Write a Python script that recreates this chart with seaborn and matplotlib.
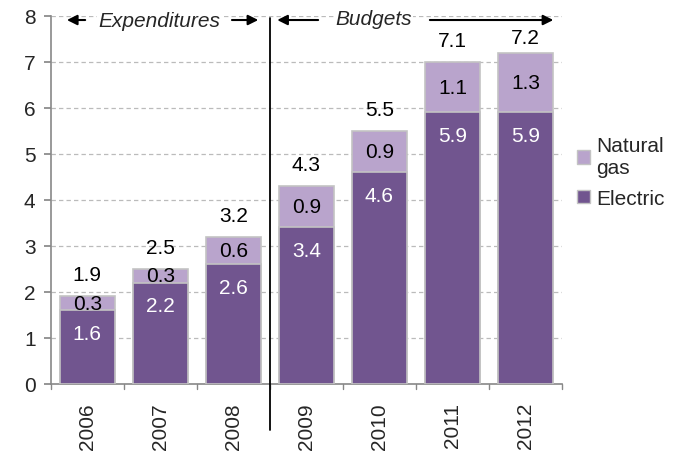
import matplotlib
matplotlib.use("Agg")
import matplotlib.pyplot as plt
import seaborn as sns
import pandas as pd
from matplotlib.patches import Patch

years = ["2006", "2007", "2008", "2009", "2010", "2011", "2012"]
electric = [1.6, 2.2, 2.6, 3.4, 4.6, 5.9, 5.9]
natural_gas = [0.3, 0.3, 0.6, 0.9, 0.9, 1.1, 1.3]
totals = [1.9, 2.5, 3.2, 4.3, 5.5, 7.1, 7.2]
y_ticks = [0, 1, 2, 3, 4, 5, 6, 7, 8]

C_ELEC = "#71558F"
C_GAS = "#B9A4CC"
C_EDGE = "#C3C3C3"
FS = 15

sns.set_theme(style="white")
plt.rcParams["font.family"] = ["Liberation Sans", "DejaVu Sans"]

df = pd.DataFrame({"year": years, "electric": electric, "gas": natural_gas})
df["stack"] = df["electric"] + df["gas"]

fig = plt.figure(figsize=(6.78, 4.56), dpi=100)
ax = fig.add_axes([0.075, 0.156, 0.754, 0.807])

sns.barplot(data=df, x="year", y="stack", color=C_GAS, saturation=1,
            width=0.75, edgecolor=C_EDGE, linewidth=1.2, ax=ax, zorder=2)
sns.barplot(data=df, x="year", y="electric", color=C_ELEC, saturation=1,
            width=0.75, edgecolor=C_EDGE, linewidth=1.2, ax=ax, zorder=3)

ax.set_ylim(0, 8)
ax.set_xlim(-0.5, len(years) - 0.5)
ax.set_yticks(y_ticks)
ax.set_yticklabels([str(t) for t in y_ticks], fontsize=FS)
ax.set_xlabel("")
ax.set_ylabel("")
ax.set_xticks(range(len(years)))
ax.set_xticklabels(years, rotation=90, fontsize=FS)
ax.tick_params(axis="x", length=0, pad=13)
ax.tick_params(axis="y", length=5, color="#888888", direction="out", left=True, pad=6)
for t in range(len(years) + 1):
    ax.plot([t - 0.5, t - 0.5], [0, -0.12], color="#888888", lw=1, clip_on=False)

for yv in y_ticks[1:]:
    ax.axhline(yv, color="#BBBBBB", lw=0.9, ls=(0, (3.5, 2.5)), zorder=1)

for s in ["top", "right"]:
    ax.spines[s].set_visible(False)
ax.spines["left"].set_color("#888888")
ax.spines["bottom"].set_color("#888888")
ax.spines["left"].set_linewidth(1.2)
ax.spines["bottom"].set_linewidth(1.2)

for i in range(len(years)):
    e, g = electric[i], natural_gas[i]
    ax.text(i, e - 0.5, f"{e:.1f}", ha="center", va="center",
            color="white", fontsize=FS, zorder=5)
    ax.text(i, e + g / 2, f"{g:.1f}", ha="center", va="center",
            color="black", fontsize=FS, zorder=5)
    ax.text(i, min(e + g + 0.47, 7.52), f"{totals[i]:.1f}", ha="center", va="center",
            color="black", fontsize=FS, zorder=5)

# separator line between expenditures and budgets
ax.plot([2.5, 2.5], [7.95, -1.0], color="black", lw=1.3, clip_on=False, zorder=6)

ay = 7.91
arrow = dict(arrowstyle="-|>", color="black", lw=1.5, mutation_scale=15,
             shrinkA=0, shrinkB=0)
ax.text(0.99, ay, "Expenditures", style="italic", ha="center", va="center", fontsize=FS,
        bbox=dict(facecolor="white", edgecolor="none", pad=1), zorder=7)
ax.annotate("", xy=(-0.28, ay), xytext=(-0.03, ay), arrowprops=arrow, zorder=7)
ax.annotate("", xy=(2.34, ay), xytext=(1.98, ay), arrowprops=arrow, zorder=7)
ax.text(3.92, ay + 0.04, "Budgets", style="italic", ha="center", va="center", fontsize=FS,
        bbox=dict(facecolor="white", edgecolor="none", pad=1), zorder=7)
ax.annotate("", xy=(2.6, ay), xytext=(3.16, ay), arrowprops=arrow, zorder=7)
ax.annotate("", xy=(6.38, ay), xytext=(4.69, ay), arrowprops=arrow, zorder=7)

handles = [Patch(facecolor=C_GAS, edgecolor=C_EDGE, label="Natural\ngas"),
           Patch(facecolor=C_ELEC, edgecolor=C_EDGE, label="Electric")]
fig.legend(handles=handles, loc="upper left", bbox_to_anchor=(0.824, 0.74),
           frameon=False, fontsize=FS, handlelength=0.6, handleheight=0.6,
           handletextpad=0.3, labelspacing=0.55)

fig.savefig("out.png", dpi=100)
